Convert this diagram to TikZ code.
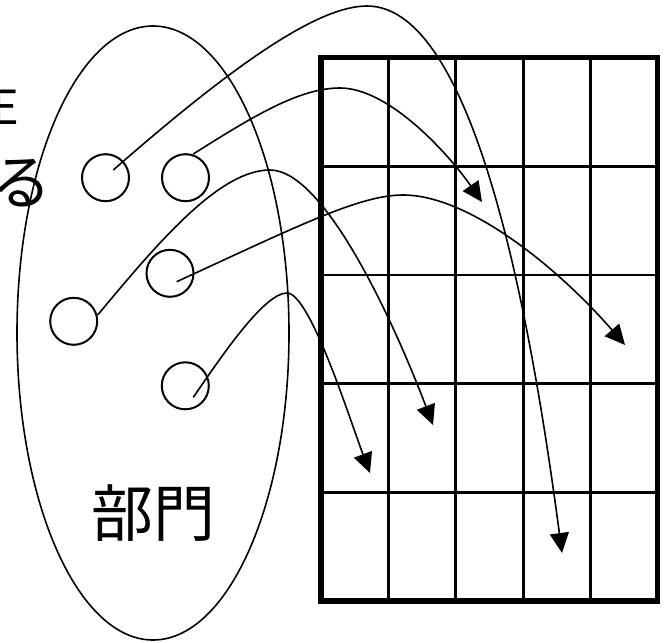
\documentclass[tikz,border=0pt]{standalone}
\usepackage{fontspec}
\newfontfamily\jpfont{Noto Sans CJK JP}
\usetikzlibrary{arrows.meta}
\tikzset{
  member/.style={circle, draw, line width=2pt, minimum size=47pt, inner sep=0pt},
  link/.style={line width=1.6pt, -{Triangle[length=20pt,width=19pt]}},
  gridin/.style={line width=2.7pt},
  gridout/.style={line width=5.3pt},
  bigtext/.style={font=\jpfont\fontsize{62}{62}\selectfont, inner sep=0pt},
  sidetext/.style={font=\jpfont\fontsize{60}{60}\selectfont, inner sep=0pt}
}
\begin{document}
\begin{tikzpicture}[x=1pt,y=-1pt]
\useasboundingbox (0,0) rectangle (666,642);
\fill[white] (0,0) rectangle (666,642);
% clipped side text
\node[sidetext, anchor=base east] (txtE) at (19,124.5) {\fontsize{47}{47}\selectfont E};
\node[sidetext, anchor=base east] (txtru) at (52,204) {る};
% department ellipse
\draw[line width=1.6pt] (153,333) ellipse [x radius=136, y radius=307];
\node[bigtext, anchor=base] (dept) at (153,536) {部門};
% members
\node[member] (c1) at (105.5,177.7) {};
\node[member] (c2) at (185.5,177.7) {};
\node[member] (c3) at (170,273.3) {};
\node[member] (c4) at (73.7,321.3) {};
\node[member] (c5) at (185.3,385.8) {};
% grid
\foreach \x in {388.4,455.8,523.2,590.6} \draw[gridin] (\x,57.8) -- (\x,601);
\foreach \y in {166.4,275,383.7,492.3} \draw[gridin] (321,\y) -- (657.7,\y);
\draw[gridout] (321,57.8) rectangle (657.7,601);
% start, peak and target points
\coordinate (s1) at (113.3,170);
\coordinate (s2) at (193.3,154);
\coordinate (s3) at (176.7,281.7);
\coordinate (s4) at (97.7,315);
\coordinate (s5) at (193.3,397.3);
\coordinate (p1) at (367,6);
\coordinate (p2) at (340,88);
\coordinate (p3) at (403,195);
\coordinate (p4) at (270,170);
\coordinate (p5) at (287,293);
\coordinate (t1) at (562,553);
\coordinate (t2) at (482,202);
\coordinate (t3) at (625,345);
\coordinate (t4) at (433,425);
\coordinate (t5) at (370,473);
% connectors
\draw[link] (s1) .. controls (240,59) and (320,6) .. (p1) .. controls (480,6) and (535,350) .. (t1);
\draw[link] (s2) .. controls (255,115) and (300,88) .. (p2) .. controls (390,88) and (450,156) .. (t2);
\draw[link] (s3) .. controls (300,225) and (360,195) .. (p3) .. controls (470,195) and (560,270) .. (t3);
\draw[link] (s4) .. controls (160,240) and (220,170) .. (p4) .. controls (325,170) and (395,325) .. (t4);
\draw[link] (s5) .. controls (225,351) and (265,293) .. (p5) .. controls (310,293) and (350,420) .. (t5);
\end{tikzpicture}
\end{document}
